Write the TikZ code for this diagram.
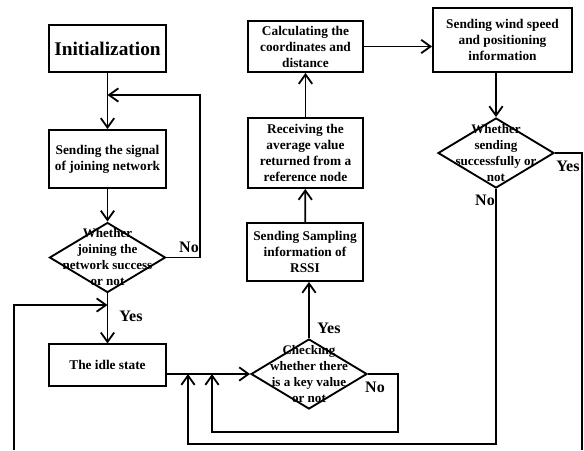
\documentclass[tikz,border=0pt]{standalone}
\usepackage{fontspec}
\setmainfont{Liberation Serif}
\usepackage{tikz}
\usetikzlibrary{arrows.meta, positioning, shapes.geometric}
\tikzset{
>={Straight Barb[length=7pt,width=10pt]}, % open arrow heads
every path/.style={line width=1.35pt},
block/.style={draw, line width=1.4pt, align=center, inner sep=0pt, font=\fontsize{10}{12}\selectfont\bfseries}, % process boxes
decision/.style={diamond, draw, line width=1.4pt, inner sep=0pt, minimum width=87pt, minimum height=52.5pt}, % test boxes
decitext/.style={align=center, inner sep=0pt, font=\fontsize{9.8}{12}\selectfont\bfseries},
answer/.style={font=\fontsize{12}{14}\selectfont\bfseries, inner sep=0pt}, % Yes / No
}

\begin{document}
\begin{tikzpicture}[x=0.75pt, y=-0.75pt]
      \useasboundingbox (0,0) rectangle (584,450);

      % left column
      \node[block, minimum width=87.75pt, minimum height=35.25pt, font=\fontsize{14.5}{16}\selectfont\bfseries] (init) at (107.5,48.5) {Initialization};
      \node[block, minimum width=87.75pt, minimum height=43.5pt] (signal) at (107.5,159) {Sending the signal\\of joining network};
      \node[decision, label={[decitext]center:{Whether\\joining the\\network success\\or not}}] (joined) at (107.5,257.5) {};
      \node[block, minimum width=87.75pt, minimum height=31pt] (idle) at (107.5,365) {The idle state};

      % middle column
      \node[decision, label={[decitext]center:{Checking\\whether there\\is a key value\\or not}}] (keyval) at (309,374) {};
      \node[block, minimum width=87pt, minimum height=43.5pt] (rssi) at (305,252) {Sending Sampling\\information of\\RSSI};
      \node[block, minimum width=86.25pt, minimum height=52.5pt] (receive) at (305.5,153) {Receiving the\\average value\\returned from a\\reference node};
      \node[block, minimum width=86.25pt, minimum height=38.25pt] (calc) at (305.5,46.5) {Calculating the\\coordinates and\\distance};

      % right column
      \node[block, minimum width=104.25pt, minimum height=48pt] (wind) at (502.5,40) {Sending wind speed\\and positioning\\information};
      \node[decision, label={[decitext]center:{Whether\\sending\\successfully or\\not}}] (sent) at (496,153) {};

      % answers
      \node[answer] (no1) at (189,247) {No};
      \node[answer] (yes1) at (131,316) {Yes};
      \node[answer] (yes2) at (329,328) {Yes};
      \node[answer] (no2) at (375,387) {No};
      \node[answer] (yes3) at (568,166) {Yes};
      \node[answer] (no3) at (485,200) {No};

      \coordinate (nojoin) at (200,95);
      \coordinate (leftturn) at (14,305);
      \coordinate (leftfoot) at (14,450);
      \coordinate (nokey) at (398,432);
      \coordinate (nokeyback) at (212,432);
      \coordinate (nosend) at (496,444);
      \coordinate (nosendback) at (188,444);
      \coordinate (yesfoot) at (582,450);

      \draw[->] (init) -- (signal);
      \draw[->] (signal) -- (joined);
      \draw[->] (joined) -- (idle);
      \draw[->] (joined.east) -| (nojoin) -- (nojoin -| init.south);
      \draw[->] (leftfoot) -- (leftturn) -- (leftturn -| joined.south);
      \draw[->] (idle.east |- keyval.west) -- (keyval.west);
      \draw[->] (keyval.east) -| (nokey) -- (nokeyback) -- (nokeyback |- keyval.west);
      \draw[->] (keyval.north) -- (keyval.north |- rssi.south);
      \draw[->] (rssi) -- (receive);
      \draw[->] (receive) -- (calc);
      \draw[->] (calc.east) -- (calc.east -| wind.west);
      \draw[->] (sent.north |- wind.south) -- (sent.north);
      \draw (sent.east) -| (yesfoot);
      \draw[->] (sent.south) -- (nosend) -- (nosendback) -- (nosendback |- keyval.west);
\end{tikzpicture}
\end{document}
